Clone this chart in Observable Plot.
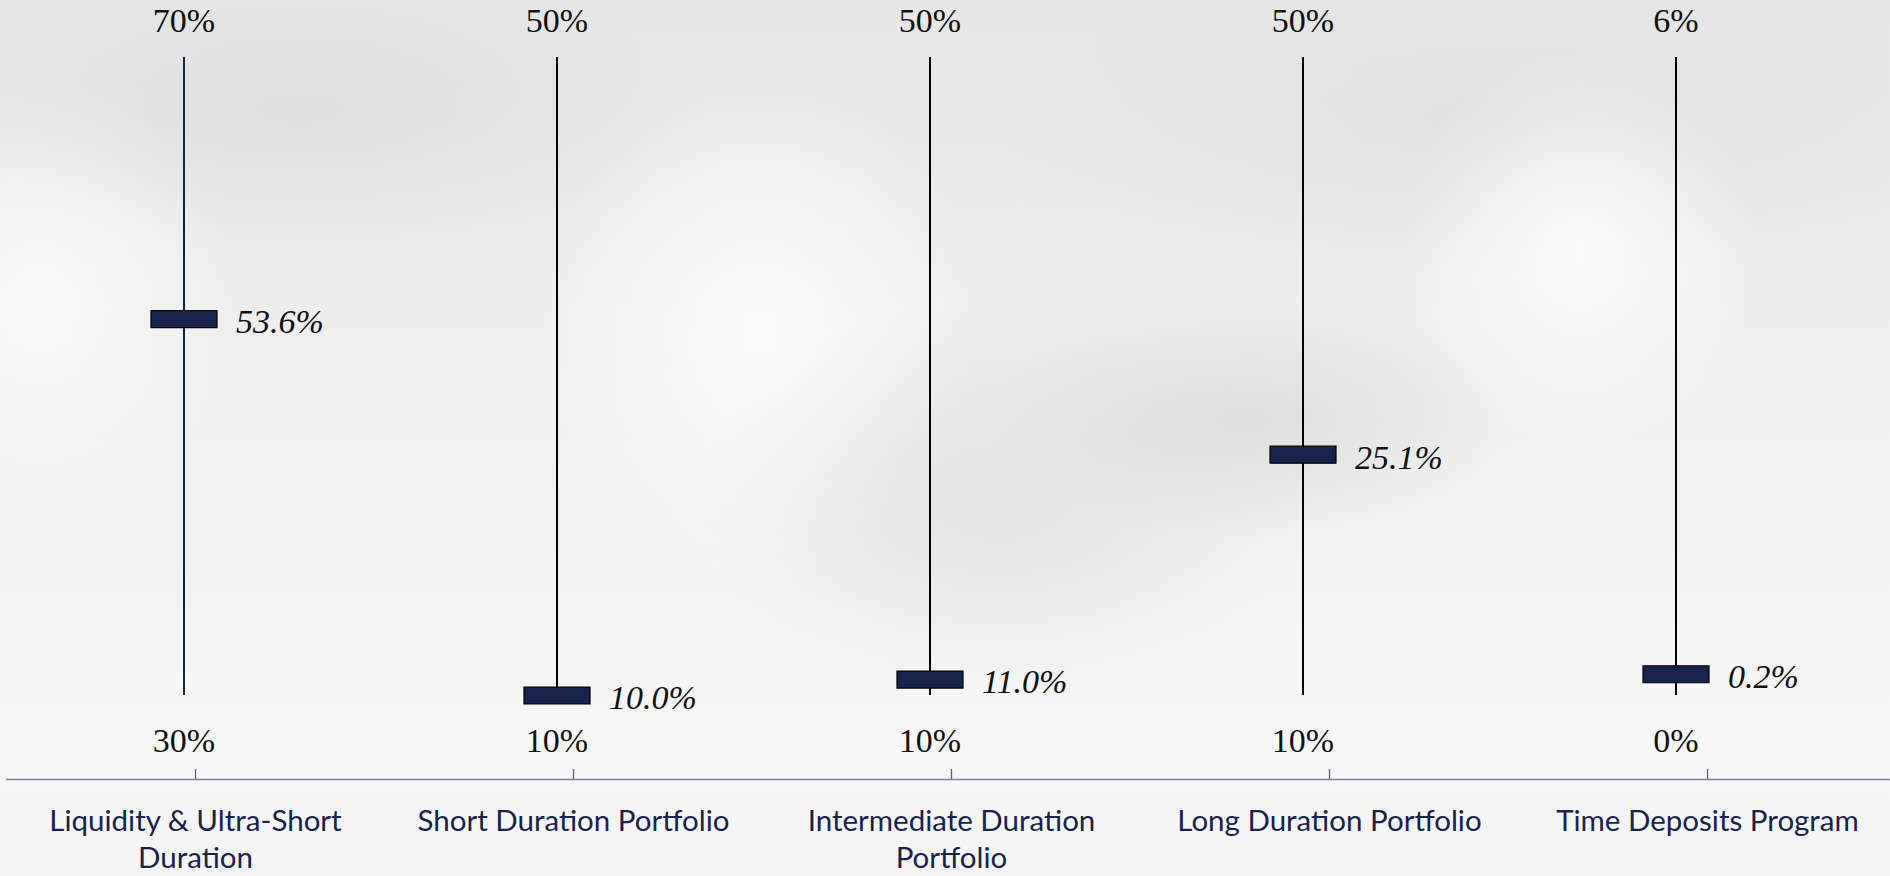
<!DOCTYPE html>
<html>
<head>
<meta charset="utf-8">
<script src="https://cdn.jsdelivr.net/npm/d3@7"></script>
<script src="https://cdn.jsdelivr.net/npm/@observablehq/plot@0.6"></script>
<style>
  html, body { margin: 0; padding: 0; }
  body {
    width: 1890px; height: 876px; overflow: hidden; position: relative;
    background:
      radial-gradient(ellipse 260px 120px at 1250px 420px, rgba(205,205,205,0.5), rgba(205,205,205,0) 100%),
      radial-gradient(ellipse 300px 200px at 1000px 500px, rgba(212,212,212,0.45), rgba(212,212,212,0) 100%),
      radial-gradient(ellipse 220px 260px at 760px 330px, rgba(255,255,255,0.8), rgba(255,255,255,0) 100%),
      radial-gradient(ellipse 180px 200px at 1580px 250px, rgba(255,255,255,0.8), rgba(255,255,255,0) 100%),
      radial-gradient(ellipse 200px 220px at 40px 300px, rgba(255,255,255,0.7), rgba(255,255,255,0) 100%),
      radial-gradient(ellipse 400px 140px at 300px 110px, rgba(215,215,215,0.6), rgba(215,215,215,0) 100%),
      radial-gradient(ellipse 500px 150px at 1500px 120px, rgba(220,220,220,0.6), rgba(220,220,220,0) 100%),
      linear-gradient(to bottom, #e6e6e6 0%, #eeeeee 35%, #f1f1f1 60%, #f7f7f7 85%, #f4f4f4 100%);
  }
  .layer { position: absolute; left: 0; top: 0; }
</style>
</head>
<body>
<div id="axis" class="layer"></div>
<div id="overlay" class="layer"></div>
<script>
// ---- data ----
const categories = [
  "Liquidity & Ultra-Short Duration",
  "Short Duration Portfolio",
  "Intermediate Duration Portfolio",
  "Long Duration Portfolio",
  "Time Deposits Program"
];
const categoryLabels = [
  "Liquidity & Ultra-Short\nDuration",
  "Short Duration Portfolio",
  "Intermediate Duration\nPortfolio",
  "Long Duration Portfolio",
  "Time Deposits Program"
];
const rangeMin = [30, 10, 10, 10, 0];
const rangeMax = [70, 50, 50, 50, 6];
const currentValue = [53.6, 10.0, 11.0, 25.1, 0.2];

const rows = categories.map((c, i) => ({
  category: c,
  min: rangeMin[i],
  max: rangeMax[i],
  value: currentValue[i],
  norm: (currentValue[i] - rangeMin[i]) / (rangeMax[i] - rangeMin[i])
}));

const navy = "#17234d";
const W = 1890, H = 876;
const serif = "'Liberation Serif', 'DejaVu Serif', serif";
const sans = "Lato, 'Open Sans', sans-serif";

// ---- axis layer ----
const labelOf = new Map(categories.map((c, i) => [c, categoryLabels[i]]));
const axisPlot = Plot.plot({
  width: W, height: H,
  marginTop: 0, marginBottom: 97, marginLeft: 6, marginRight: 0,
  style: { background: "transparent", fontFamily: sans, overflow: "visible" },
  x: { type: "band", domain: categories, range: [6, 1896], padding: 0 },
  y: { domain: [0, 1], axis: null },
  marks: [
    Plot.ruleY([0], { stroke: "#7d83a0", strokeWidth: 1.6 }),
    Plot.ruleX(categories, { x: d => d, stroke: "#5a6080", strokeWidth: 1.3, insetTop: 769 }),
    Plot.axisX({
      anchor: "bottom", tickSize: 0, tickPadding: 25,
      tickFormat: d => labelOf.get(d),
      fontSize: 29.5, lineHeight: 1.25, color: navy, fill: navy, label: null
    })
  ]
});
document.getElementById("axis").appendChild(axisPlot);

// ---- overlay layer ----
const markerSymbol = {
  draw(context) { context.rect(-33, -8.5, 66, 17); }
};
const overlay = Plot.plot({
  width: W, height: H,
  marginTop: 0, marginBottom: 0, marginLeft: 0, marginRight: 0,
  style: { background: "transparent", fontFamily: serif, overflow: "visible" },
  x: { type: "band", domain: categories, range: [-5, 1864], padding: 0, axis: null },
  y: { domain: [0, 1], range: [695, 57], axis: null },
  marks: [
    Plot.ruleX(rows.slice(0, 1), { x: "category", y1: 0, y2: 1, stroke: navy, strokeWidth: 2 }),
    Plot.ruleX(rows.slice(1), { x: "category", y1: 0, y2: 1, stroke: "#000", strokeWidth: 2 }),
    Plot.dot(rows, { x: "category", y: "norm", symbol: markerSymbol, r: 10, fill: navy, stroke: "#000", strokeWidth: 1.2 }),
    Plot.text(rows, { x: "category", y: 1, text: d => `${d.max}%`, dy: -36, fontSize: 34, fill: "#111" }),
    Plot.text(rows, { x: "category", y: 0, text: d => `${d.min}%`, dy: 46, fontSize: 34, fill: "#111" }),
    Plot.text(rows, { x: "category", y: "norm", text: d => `${d.value.toFixed(1)}%`, dx: 52, dy: 3, textAnchor: "start", fontSize: 34, fontStyle: "italic", fill: "#111" })
  ]
});
document.getElementById("overlay").appendChild(overlay);
</script>
</body>
</html>
